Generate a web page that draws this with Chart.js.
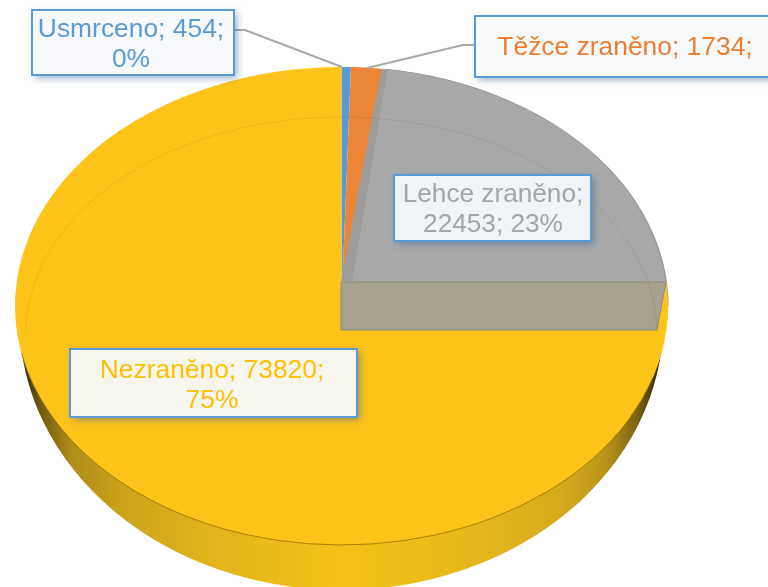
<!DOCTYPE html>
<html><head><meta charset="utf-8">
<script src="https://cdn.jsdelivr.net/npm/chart.js@4"></script>
<style>html,body{margin:0;padding:0;background:#fff;overflow:hidden}canvas{display:block}</style>
</head><body><canvas id="c" width="768" height="587"></canvas>
<script>
const categories = ['Usmrceno', 'Těžce zraněno', 'Lehce zraněno', 'Nezraněno'];
const values = [454, 1734, 22453, 73820];
const sliceColors = ['#5b9bd5', '#ed8537', '#a8a8a8', '#ffc41a'];
const labelLines = [
  ['Usmrceno; 454;', '0%'],
  ['Těžce zraněno; 1734;'],
  ['Lehce zraněno;', '22453; 23%'],
  ['Nezraněno; 73820;', '75%']
];
const labelColors = ['#5b9bd5', '#ed7d31', '#a5a5a5', '#ffc000'];

const topFace = {x: 341.5, y: 306, rx: 326.5, ry: 239};
const baseFace = {x: 341.5, y: 320, rx: 322, ry: 270};
const apex = {x: 341, y: 282};
const boxes = [
  {x: 32, y: 10, w: 202, h: 65, fill: '#f7f9fc', tx: 131, base: [37, 67], size: 26.4},
  {x: 475, y: 16, w: 300, h: 61, fill: '#f8f9fb', tx: 625, base: [55], size: 26.4},
  {x: 394, y: 175, w: 197, h: 66, fill: '#f0f3f7', tx: 493, base: [202, 232], size: 26.2},
  {x: 70, y: 349, w: 287, h: 68, fill: '#f6f5ee', tx: 212, base: [378, 408], size: 26.4}
];
const leaders = [
  [[234, 30], [245, 30], [342, 67]],
  [[475, 45], [463, 45], [367, 68]]
];

function toFace(ctx, arc, face) {
  const R = arc.outerRadius;
  ctx.translate(face.x, face.y);
  ctx.scale(face.rx / R, face.ry / R);
  ctx.translate(-arc.x, -arc.y);
}
function poly(ctx, pts) {
  ctx.beginPath();
  pts.forEach((p, i) => i ? ctx.lineTo(p[0], p[1]) : ctx.moveTo(p[0], p[1]));
}

const pie3d = {
  id: 'pie3d',
  beforeDatasetsDraw(chart) {
    const ctx = chart.ctx, arcs = chart.getDatasetMeta(0).data, a0 = arcs[0];
    const R = a0.outerRadius;
    const g = ctx.createLinearGradient(a0.x - R, 0, a0.x + R, 0);
    [[0, '#2e2405'], [0.03, '#6d5610'], [0.08, '#b08c18'], [0.16, '#cba31b'], [0.3, '#e2b41c'],
     [0.5, '#f6c119'], [0.68, '#e9b91b'], [0.84, '#d5aa1c'], [0.91, '#bb9519'], [0.96, '#7a6110'], [1, '#2a2105']]
      .forEach(s => g.addColorStop(s[0], s[1]));
    ctx.save();
    ctx.beginPath();
    ctx.rect(0, topFace.y + 10, chart.width, chart.height);
    ctx.clip();
    toFace(ctx, a0, baseFace);
    const a = arcs[arcs.length - 1], o = a.options;
    a.options = Object.assign(Object.create(o), {backgroundColor: g, borderWidth: 0});
    a.draw(ctx);
    a.options = o;
    ctx.restore();
  },
  beforeDatasetDraw(chart) {
    const ctx = chart.ctx;
    ctx.save();
    toFace(ctx, chart.getDatasetMeta(0).data[0], topFace);
  },
  afterDatasetDraw(chart) {
    chart.ctx.restore();
  },
  afterDatasetsDraw(chart) {
    const ctx = chart.ctx, T = topFace;
    ctx.save();
    ctx.beginPath();
    ctx.ellipse(T.x, T.y, T.rx, T.ry, 0, 0, Math.PI * 2);
    ctx.clip();
    // yellow sliver right of the inner wall
    poly(ctx, [[666, 282], [672, 282], [672, 332], [657, 330]]);
    ctx.fillStyle = sliceColors[3];
    ctx.fill();
    // inner wall below the wedge
    poly(ctx, [[apex.x, apex.y], [666, apex.y], [657, 330], [apex.x, 330]]);
    ctx.closePath();
    ctx.fillStyle = '#a7a18f';
    ctx.fill();
    ctx.strokeStyle = '#8d8a80';
    ctx.lineWidth = 1;
    ctx.stroke();
    // darker strip along the orange slice
    poly(ctx, [[382, 66], [388, 66], [371, 170], [352, 282], [apex.x, apex.y]]);
    ctx.closePath();
    ctx.fillStyle = '#9f9d99';
    ctx.fill();
    // faint back rim
    ctx.beginPath();
    ctx.ellipse(341.5, 333, 315.5, 216, 0, Math.PI, Math.PI * 2);
    ctx.strokeStyle = 'rgba(90,70,20,0.10)';
    ctx.stroke();
    ctx.restore();
    // front rim of the top face
    ctx.beginPath();
    ctx.ellipse(T.x, T.y, T.rx, T.ry, 0, 0.3, Math.PI - 0.2);
    ctx.strokeStyle = 'rgba(140,105,5,0.75)';
    ctx.lineWidth = 1;
    ctx.stroke();
    // leaders
    ctx.strokeStyle = '#a9a9a9';
    ctx.lineWidth = 2;
    leaders.forEach(l => { poly(ctx, l); ctx.stroke(); });
    // label boxes
    boxes.forEach((b, i) => {
      ctx.save();
      ctx.shadowColor = 'rgba(70,110,150,0.55)';
      ctx.shadowBlur = 7;
      ctx.shadowOffsetX = 3;
      ctx.shadowOffsetY = 3;
      ctx.fillStyle = b.fill;
      ctx.fillRect(b.x, b.y, b.w, b.h);
      ctx.restore();
      ctx.strokeStyle = '#5b9bd5';
      ctx.lineWidth = 2;
      ctx.strokeRect(b.x, b.y, b.w, b.h);
      ctx.font = b.size + 'px "Liberation Sans", Arial, sans-serif';
      ctx.fillStyle = labelColors[i];
      ctx.textAlign = 'center';
      ctx.textBaseline = 'alphabetic';
      labelLines[i].forEach((t, k) => ctx.fillText(t, b.tx, b.base[k]));
    });
  }
};

new Chart(document.getElementById('c'), {
  type: 'pie',
  data: {labels: categories, datasets: [{
    data: values,
    backgroundColor: sliceColors,
    borderWidth: [0, 0, 1, 0],
    borderColor: '#949494',
    clip: false
  }]},
  options: {
    responsive: false,
    animation: false,
    plugins: {legend: {display: false}, tooltip: {enabled: false}}
  },
  plugins: [pie3d]
});
</script>
</body></html>
